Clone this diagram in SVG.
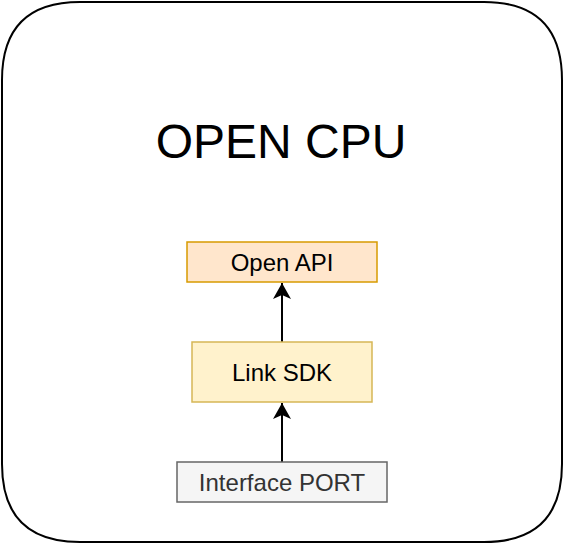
<svg xmlns="http://www.w3.org/2000/svg" width="564" height="544" viewBox="0 0 564 544">
<style>
text{font-family:"Liberation Sans",Arial,sans-serif;text-anchor:middle}
.lbl{font-size:24px;fill:#000}
.edge{stroke:#000;stroke-width:2;fill:none}
</style>
<defs>
<marker id="arr" markerUnits="userSpaceOnUse" viewBox="0 0 18 18" refX="17" refY="9" markerWidth="18" markerHeight="18" orient="auto">
<path d="M1,0 L17,9 L1,18 L5,9 Z" fill="#000"/>
</marker>
</defs>
<rect width="564" height="544" fill="#fff"/>
<g id="container">
<path d="M2,80 Q2,2 80,2 L484,2 Q562,2 562,80 L562,464 Q562,542 484,542 L80,542 Q2,542 2,464 Z" fill="#fff" stroke="#000" stroke-width="2"/>
<text x="281" y="158" style="font-size:48px" fill="#000">OPEN CPU</text>
</g>
<g id="connectors">
<line class="edge" x1="282" y1="342" x2="282" y2="283" marker-end="url(#arr)"/>
<line class="edge" x1="282" y1="462" x2="282" y2="403" marker-end="url(#arr)"/>
</g>
<g id="open-api">
<rect x="187" y="242" width="190" height="40" fill="#ffe6cc" stroke="#d79b00" stroke-width="1.5"/>
<text class="lbl" x="282" y="271">Open API</text>
</g>
<g id="link-sdk">
<rect x="192" y="342" width="180" height="60" fill="#fff2cc" stroke="#d6b656" stroke-width="1.5"/>
<text class="lbl" x="282" y="381">Link SDK</text>
</g>
<g id="interface-port">
<rect x="177" y="462" width="210" height="40" fill="#f5f5f5" stroke="#666666" stroke-width="1.5"/>
<text class="lbl" x="282" y="491" style="fill:#333333">Interface PORT</text>
</g>
</svg>
